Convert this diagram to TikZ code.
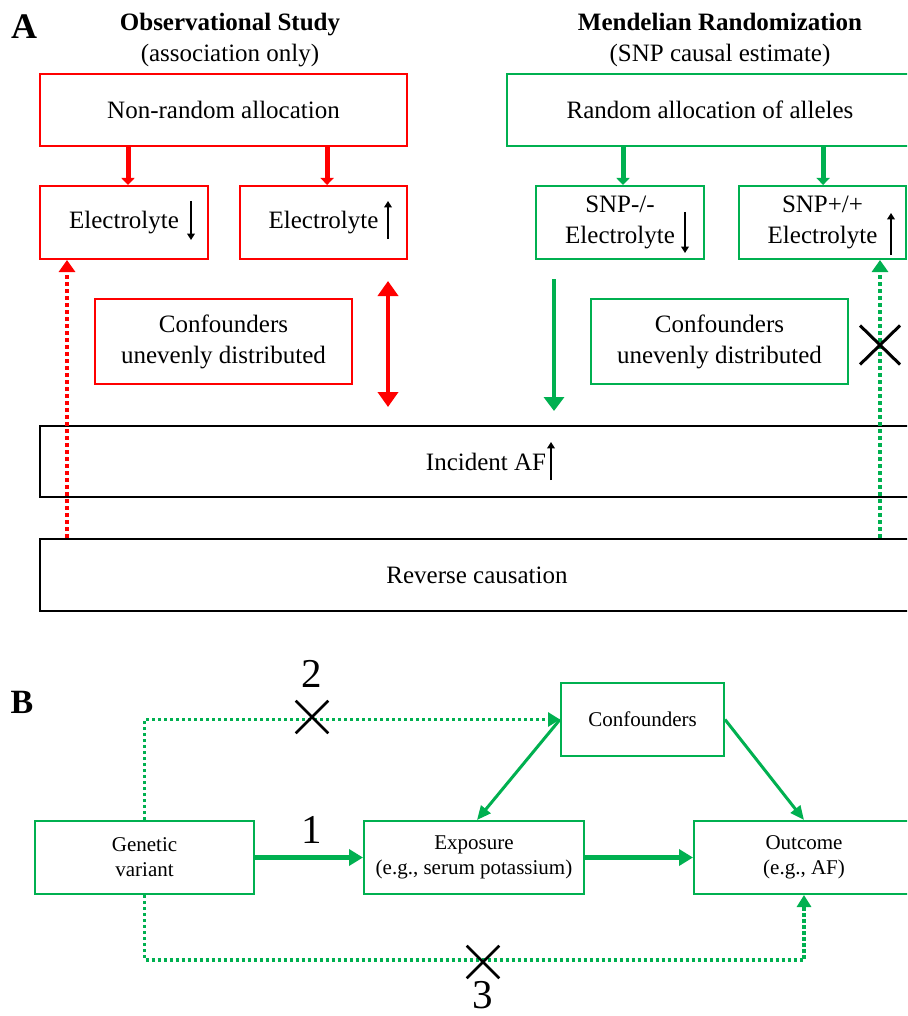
\documentclass[tikz,border=0pt]{standalone}
\usepackage{fontspec}
\setmainfont{Liberation Serif}
\usetikzlibrary{arrows.meta,shapes.misc}
\definecolor{myred}{RGB}{255,0,0}
\definecolor{mygreen}{RGB}{0,176,80}
\begin{document}
\begin{tikzpicture}[x=0.5pt,y=-0.5pt,
 fA/.style={font=\fontsize{12.5}{15.5}\selectfont},
 fB/.style={font=\fontsize{10.5}{12.5}\selectfont},
 rbox/.style={draw=myred,line width=1pt,inner sep=0pt,align=center,fA},
 gbox/.style={draw=mygreen,line width=1pt,inner sep=0pt,align=center,fA},
 kbox/.style={draw=black,line width=1.3pt,inner sep=0pt,align=center,fA},
 bbox/.style={draw=mygreen,line width=1pt,inner sep=0pt,align=center,fB},
 rarr/.style={draw=myred,line width=2.5pt,-{Triangle[width=6.5pt,length=3.5pt]}},
 garr/.style={draw=mygreen,line width=2.5pt,-{Triangle[width=6.5pt,length=3.5pt]}},
 rdbl/.style={draw=myred,line width=2pt,{Triangle[width=10pt,length=7.5pt]}-{Triangle[width=10pt,length=7.5pt]}},
 gdown/.style={draw=mygreen,line width=2pt,-{Triangle[width=10pt,length=7pt]}},
 rdot/.style={draw=myred,line width=2pt,dash pattern=on 2pt off 1.5pt,-{Triangle[width=8pt,length=6pt]}},
 gdot/.style={draw=mygreen,line width=2pt,dash pattern=on 2pt off 1.5pt,-{Triangle[width=8pt,length=6pt]}},
 bdot/.style={draw=mygreen,line width=1.7pt,dash pattern=on 1.7pt off 1.3pt,-{Triangle[width=7pt,length=6pt]}},
 bthick/.style={draw=mygreen,line width=2.6pt,-{Triangle[width=8pt,length=7pt]}},
 bdiag/.style={draw=mygreen,line width=1.5pt,-{Triangle[width=6pt,length=7pt]}},
 sarr/.style={draw=black,line width=1pt,-{Triangle[width=3.8pt,length=3.2pt]}},
 xmark/.style={cross out,draw=black,inner sep=0pt},
 big/.style={font=\fontsize{20.5}{24}\selectfont,anchor=base,inner sep=0pt},
]
\useasboundingbox (0,0) rectangle (907,1016);
\clip (0,0) rectangle (907,1016);
\fill[white] (0,0) rectangle (907,1016);

% ---------- Panel A ----------
\node[font=\bfseries\fontsize{18}{20}\selectfont] (lA) at (24,27) {A};
\node[fA,align=center] (tO) at (230,40) {\textbf{Observational Study}\\(association only)};
\node[fA,align=center] (tM) at (720,40) {\textbf{Mendelian Randomization}\\(SNP causal estimate)};

\node[rbox,minimum width=183.5pt,minimum height=36pt] (nonrand) at (223.5,110) {Non-random allocation};
\node[rbox,minimum width=84pt,minimum height=36.5pt] (elD) at (124,222.5) {Electrolyte};
\node[rbox,minimum width=83.5pt,minimum height=36.5pt] (elU) at (323.5,222.5) {Electrolyte};

\node[gbox,minimum width=203pt,minimum height=36pt] (randal) at (710,110) {Random allocation of alleles};
\node[gbox,minimum width=84pt,minimum height=36.5pt] (snpm) at (620,222.5) {SNP-/-\\Electrolyte};
\node[gbox,minimum width=83.5pt,minimum height=36.5pt] (snpp) at (822.5,222.5) {SNP+/+\\Electrolyte};

\node[rbox,minimum width=128.5pt,minimum height=42.5pt] (confR) at (223.5,341.5) {Confounders\\unevenly distributed};
\node[gbox,minimum width=128.5pt,minimum height=42.5pt] (confG) at (719.5,341.5) {Confounders\\unevenly distributed};

\node[kbox,minimum width=446pt,minimum height=35.5pt] (inc) at (486,461.5) {Incident AF};
\node[kbox,minimum width=437pt,minimum height=36pt] (rev) at (477,575) {Reverse causation};

% small arrows inside text
\draw[sarr] (191,201) -- (191,240);
\draw[sarr] (388,239) -- (388,201);
\draw[sarr] (685,212) -- (685,253);
\draw[sarr] (891,255) -- (891,213);
\draw[sarr] (551,480) -- (551,442);

% allocation arrows
\draw[rarr] ([xshift=2pt]elD.north |- nonrand.south) -- ([xshift=2pt]elD.north);
\draw[rarr] ([xshift=1.8pt]elU.north |- nonrand.south) -- ([xshift=1.8pt]elU.north);
\draw[garr] ([xshift=1.5pt]snpm.north |- randal.south) -- ([xshift=1.5pt]snpm.north);
\draw[garr] ([xshift=0.3pt]snpp.north |- randal.south) -- ([xshift=0.3pt]snpp.north);

% confounding arrows
\coordinate (da1) at (388,281);
\coordinate (da2) at (388,407);
\draw[rdbl] (da1) -- (da2);
\coordinate (ga1) at (554,279);
\coordinate (ga2) at (554,411);
\draw[gdown] (ga1) -- (ga2);

% reverse causation dotted arrows
\coordinate (rd) at (67,400);
\coordinate (gd) at (880,400);
\draw[rdot] (rev.north -| rd) -- (elD.south -| rd);
\draw[gdot] (rev.north -| gd) -- (snpp.south -| gd);
\node[xmark,line width=1.5pt,minimum width=18.5pt,minimum height=18pt] (xA) at (880,345) {};

% ---------- Panel B ----------
\node[font=\bfseries\fontsize{17}{20}\selectfont] (lB) at (22,702) {B};

\node[bbox,minimum width=81.5pt,minimum height=36.5pt] (conf) at (642.5,719.5) {Confounders};
\node[bbox,minimum width=109.5pt,minimum height=36.5pt] (gen) at (144.5,857.5) {Genetic\\variant};
\node[bbox,minimum width=110pt,minimum height=36.5pt] (expo) at (474,857.5) {Exposure\\(e.g., serum potassium)};
\node[bbox,minimum width=110pt,minimum height=36.5pt] (out) at (804,857.5) {Outcome\\(e.g., AF)};

\draw[bthick] (gen.east) -- (expo.west);
\draw[bthick] (expo.east) -- (out.west);
\draw[bdiag] (conf.west) -- ([xshift=1.5pt]expo.north);
\draw[bdiag] (conf.east) -- (out.north);

\draw[bdot] (gen.north) |- (conf.west);
\coordinate (low) at (480,960);
\draw[bdot] (gen.south) |- (low) -| (out.south);

\node[xmark,line width=1.3pt,minimum width=15pt,minimum height=15pt] (x2) at (312,717) {};
\node[xmark,line width=1.3pt,minimum width=15pt,minimum height=15pt] (x3) at (483,962) {};
\node[big] (n2) at (312,687) {2};
\node[big] (n1) at (312,843) {1};
\node[big] (n3) at (483,1008) {3};
\end{tikzpicture}
\end{document}
